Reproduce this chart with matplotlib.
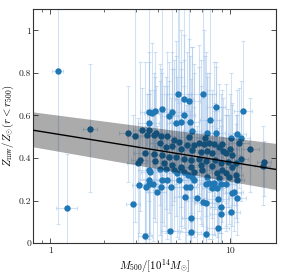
import numpy as np
import matplotlib
matplotlib.use('Agg')
import matplotlib.pyplot as plt
from matplotlib.ticker import FixedLocator, FixedFormatter, NullFormatter

plt.rcParams['font.family'] = 'serif'
plt.rcParams['font.serif'] = ['cmr10', 'DejaVu Serif']
plt.rcParams['mathtext.fontset'] = 'cm'
plt.rcParams['axes.formatter.use_mathtext'] = True

# cluster masses [1e14 Msun] and mass-weighted metallicity (r < r500)
mass = [
    1.10, 1.23, 1.66, 2.71, 2.88, 2.98, 3.07, 3.11, 3.15, 3.25,
    3.36, 3.36, 3.42, 3.53, 3.53, 3.55, 3.53, 3.53, 5.15, 7.11,
    5.54, 5.91, 8.35, 11.8, 4.16, 3.82, 3.66, 4.73, 4.57, 5.54,
    4.98, 5.36, 5.98, 7.80, 3.77, 6.17, 7.48, 8.41, 11.0, 10.1,
    11.6, 4.14, 4.48, 5.91, 7.25, 3.90, 3.46, 4.87, 5.24, 5.78,
    6.30, 6.72, 7.16, 7.62, 8.15, 8.69, 9.06, 10.0, 11.2, 13.0,
    4.10, 4.38, 4.77, 5.31, 6.17, 6.87, 7.48, 7.97, 9.20, 9.46,
    10.3, 11.5, 3.77, 4.20, 4.57, 4.98, 5.54, 6.04, 6.72, 7.32,
    8.22, 8.87, 9.75, 10.8, 15.5, 4.29, 4.77, 5.31, 6.04, 6.87,
    7.97, 9.06, 10.3, 15.2, 4.10, 4.38, 4.87, 5.54, 6.30, 7.00,
    8.50, 9.46, 5.09, 6.17, 7.48, 8.69, 9.90, 10.8, 4.16, 4.48,
    6.30, 7.62, 8.15, 8.87, 9.46, 4.67, 8.50, 10.3, 5.61, 6.58,
    8.60, 7.07, 7.32, 10.2, 8.87, 6.10, 8.60, 4.61, 6.04, 7.38,
    8.87, 3.85, 3.53, 3.61, 5.31, 5.18, 5.85, 3.72, 4.11, 3.95,
    5.66, 6.00, 8.00, 7.40, 10.9, 10.6, 11.0,
]
z_mw = [
    0.811, 0.165, 0.537, 0.516, 0.184, 0.504, 0.375, 0.272, 0.389, 0.531,
    0.425, 0.036, 0.265, 0.563, 0.531, 0.617, 0.297, 0.277, 0.701, 0.701,
    0.676, 0.666, 0.640, 0.622, 0.630, 0.620, 0.614, 0.616, 0.598, 0.600,
    0.565, 0.570, 0.569, 0.578, 0.508, 0.526, 0.516, 0.516, 0.511, 0.492,
    0.495, 0.504, 0.504, 0.500, 0.495, 0.516, 0.508, 0.484, 0.476, 0.461,
    0.461, 0.469, 0.465, 0.469, 0.465, 0.453, 0.465, 0.442, 0.469, 0.445,
    0.469, 0.453, 0.456, 0.445, 0.437, 0.429, 0.434, 0.425, 0.434, 0.422,
    0.414, 0.398, 0.419, 0.414, 0.403, 0.406, 0.398, 0.391, 0.398, 0.387,
    0.391, 0.375, 0.383, 0.375, 0.380, 0.375, 0.367, 0.359, 0.359, 0.367,
    0.362, 0.344, 0.359, 0.362, 0.347, 0.347, 0.344, 0.336, 0.336, 0.344,
    0.328, 0.328, 0.328, 0.312, 0.312, 0.305, 0.312, 0.320, 0.297, 0.297,
    0.297, 0.281, 0.284, 0.277, 0.277, 0.262, 0.261, 0.237, 0.218, 0.211,
    0.206, 0.192, 0.188, 0.148, 0.137, 0.117, 0.070, 0.058, 0.052, 0.042,
    0.172, 0.386, 0.344, 0.333, 0.354, 0.297, 0.320, 0.277, 0.265, 0.242,
    0.265, 0.265, 0.258, 0.278, 0.211, 0.239, 0.297,
]
# upper / lower ends of the metallicity error bars
z_hi = [
    1.30, 0.42, 0.84, 0.74, 0.60, 1.30, 0.59, 0.50, 0.85, 0.73,
    0.85, 0.30, 0.55, 1.30, 0.85, 0.90, 0.62, 0.70, 1.30, 1.30,
    0.98, 1.30, 0.83, 0.95, 1.30, 0.90, 0.94, 1.30, 0.85, 1.30,
    0.95, 1.00, 0.88, 1.30, 0.80, 0.92, 0.78, 0.85, 0.72, 0.80,
    0.76, 0.82, 0.90, 0.96, 0.88, 0.74, 0.70, 0.86, 1.30, 0.90,
    0.84, 0.93, 1.00, 0.80, 0.85, 0.75, 0.72, 0.70, 0.73, 0.68,
    0.84, 0.78, 0.90, 0.82, 0.92, 0.74, 0.80, 0.70, 0.68, 0.75,
    0.65, 0.62, 0.72, 0.80, 0.76, 0.88, 0.86, 0.77, 0.83, 0.90,
    0.66, 0.70, 0.63, 0.60, 0.48, 0.74, 0.82, 0.78, 0.70, 0.86,
    0.72, 0.64, 0.66, 0.55, 0.76, 0.70, 0.82, 0.74, 0.80, 0.68,
    0.62, 0.60, 0.78, 0.66, 0.72, 0.58, 0.60, 0.56, 0.70, 0.74,
    0.64, 0.58, 0.62, 0.55, 0.60, 0.68, 0.54, 0.50, 0.62, 0.55,
    0.48, 0.52, 0.50, 0.40, 0.42, 0.45, 0.35, 0.40, 0.30, 0.32,
    0.45, 0.78, 0.70, 0.72, 0.85, 0.66, 0.70, 0.60, 0.64, 0.55,
    0.65, 0.62, 0.55, 0.58, 0.50, 0.52, 0.60,
]
z_lo = [
    0.09, -0.05, 0.24, 0.29, -0.05, 0.10, -0.05, 0.05, 0.15, 0.30,
    0.05, -0.05, 0.00, 0.30, 0.20, 0.35, 0.00, 0.02, 0.35, 0.40,
    0.40, 0.38, 0.35, 0.40, 0.32, 0.30, 0.34, 0.36, 0.30, 0.32,
    0.28, 0.30, 0.32, 0.35, 0.25, 0.30, 0.28, 0.30, 0.32, 0.28,
    0.30, 0.24, 0.26, 0.25, 0.27, 0.27, 0.24, 0.20, 0.22, 0.20,
    0.22, 0.23, 0.20, 0.24, 0.22, 0.20, 0.25, 0.22, 0.26, 0.24,
    0.18, 0.16, 0.18, 0.17, 0.20, 0.18, 0.20, 0.17, 0.20, 0.19,
    0.18, 0.20, 0.12, 0.10, 0.14, 0.13, 0.12, 0.14, 0.15, 0.13,
    0.16, 0.15, 0.17, 0.18, 0.22, 0.08, 0.06, 0.08, 0.10, 0.09,
    0.12, 0.10, 0.15, 0.18, 0.04, 0.05, 0.06, 0.07, 0.06, 0.08,
    0.06, 0.08, 0.03, 0.04, 0.06, 0.05, 0.09, 0.12, 0.00, 0.02,
    0.03, 0.02, 0.04, 0.05, 0.06, -0.02, 0.03, 0.08, -0.02, -0.03,
    0.00, -0.03, -0.02, 0.00, -0.02, -0.04, -0.03, -0.05, -0.05, -0.05,
    -0.02, 0.10, 0.05, 0.04, 0.06, 0.02, 0.04, 0.01, 0.00, -0.02,
    0.00, 0.01, 0.02, 0.03, 0.04, 0.06, 0.10,
]
# mass uncertainty in dex
mass_dex = [
    0.03, 0.06, 0.04, 0.05, 0.04, 0.05, 0.06, 0.04, 0.05, 0.05,
    0.06, 0.04, 0.05, 0.06, 0.04, 0.05, 0.06, 0.05, 0.06, 0.07,
    0.05, 0.06, 0.05, 0.05, 0.06, 0.05, 0.04, 0.06, 0.05, 0.06,
    0.05, 0.06, 0.05, 0.06, 0.04, 0.05, 0.06, 0.05, 0.05, 0.04,
    0.05, 0.06, 0.05, 0.06, 0.05, 0.04, 0.05, 0.06, 0.05, 0.06,
    0.05, 0.06, 0.05, 0.06, 0.05, 0.05, 0.04, 0.05, 0.06, 0.05,
    0.06, 0.05, 0.06, 0.05, 0.06, 0.05, 0.05, 0.06, 0.05, 0.04,
    0.05, 0.04, 0.05, 0.06, 0.05, 0.06, 0.05, 0.06, 0.05, 0.06,
    0.05, 0.06, 0.05, 0.04, 0.04, 0.06, 0.05, 0.06, 0.05, 0.06,
    0.05, 0.06, 0.05, 0.04, 0.06, 0.05, 0.06, 0.05, 0.06, 0.05,
    0.06, 0.05, 0.06, 0.05, 0.06, 0.05, 0.05, 0.04, 0.06, 0.05,
    0.06, 0.05, 0.06, 0.05, 0.05, 0.06, 0.05, 0.05, 0.06, 0.05,
    0.06, 0.05, 0.06, 0.05, 0.06, 0.05, 0.06, 0.05, 0.06, 0.05,
    0.06, 0.05, 0.06, 0.05, 0.06, 0.05, 0.06, 0.05, 0.06, 0.05,
    0.06, 0.05, 0.06, 0.05, 0.05, 0.05, 0.04,
]

# best-fit relation and its scatter band, at the plot edges
fit_mass = [0.8, 18.0]
fit_z = [0.531, 0.347]
band_lo = [0.453, 0.253]
band_hi = [0.617, 0.469]

y_ticks = [0, 0.2, 0.4, 0.6, 0.8, 1]
y_ticklabels = ['0', '0.2', '0.4', '0.6', '0.8', '1']
x_ticks = [1, 10]
x_ticklabels = ['1', '10']

m = np.array(mass)
z = np.array(z_mw)
dex = np.array(mass_dex)
yerr = [z - np.array(z_lo), np.array(z_hi) - z]
xerr = [m * (1 - 10 ** -dex), m * (10 ** dex - 1)]

fig = plt.figure(figsize=(2.93, 2.76), dpi=100)
ax = fig.add_axes([0.1126, 0.1185, 0.8283, 0.8489])

ax.errorbar(m, z, yerr=yerr, xerr=xerr, fmt='none', ecolor='#9dbfe8', alpha=0.45,
            elinewidth=0.8, capsize=1.5, capthick=0.8, zorder=1)
ax.plot(m, z, 'o', color='#1f77b4', ms=4.6, mec='none', zorder=1.5)
ax.fill_between(fit_mass, band_lo, band_hi, color='k', alpha=0.33, lw=0, zorder=2)
ax.plot(fit_mass, fit_z, color='k', lw=1.0, zorder=3)

ax.set_xscale('log')
ax.set_xlim(0.8, 18)
ax.set_ylim(0, 1.1)

ax.xaxis.set_major_locator(FixedLocator(x_ticks))
ax.xaxis.set_major_formatter(FixedFormatter(x_ticklabels))
ax.xaxis.set_minor_locator(FixedLocator([0.8, 0.9, 2, 3, 4, 5, 6, 7, 8, 9]))
ax.xaxis.set_minor_formatter(NullFormatter())
ax.yaxis.set_major_locator(FixedLocator(y_ticks))
ax.yaxis.set_major_formatter(FixedFormatter(y_ticklabels))

ax.tick_params(which='both', direction='in', top=True, right=True, labelsize=7,
               color='#333333', labelcolor='#222222')
ax.tick_params(which='major', length=3.5, width=0.6)
ax.tick_params(which='minor', length=2, width=0.5)
ax.tick_params(axis='y', which='major', pad=1.2)
ax.tick_params(axis='x', which='major', pad=2.5)
for s in ax.spines.values():
    s.set_linewidth(0.8)
    s.set_color('#333333')

ax.set_xlabel(r'$M_{500}/[10^{14}M_{\odot}]$', fontsize=7.8)
ax.set_ylabel(r'$Z_{\rm mw}/Z_{\odot}(r<r_{500})$', fontsize=7.8)
ax.xaxis.set_label_coords(0.5, -0.06)
ax.yaxis.set_label_coords(-0.068, 0.5)

fig.savefig('out.png', dpi=100)
